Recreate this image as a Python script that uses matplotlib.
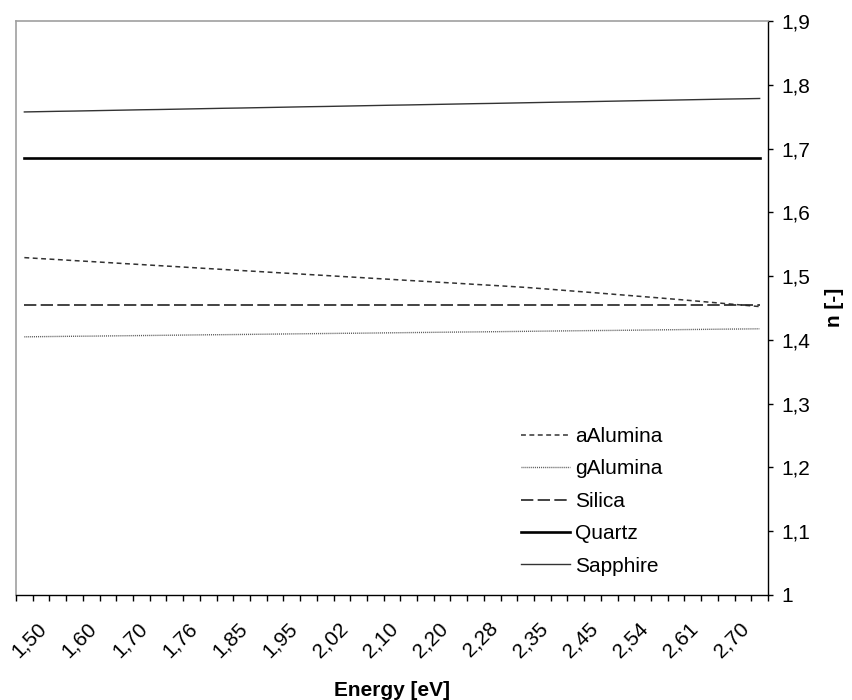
import numpy as np
import matplotlib.pyplot as plt
from matplotlib.transforms import ScaledTranslation

plt.rcParams['font.family'] = ['Liberation Sans', 'DejaVu Sans']

# 45 energy points, only every third one is labelled on the axis
n_points = 45
tick_labels = ['1,50', '1,60', '1,70', '1,76', '1,85', '1,95', '2,02', '2,10',
               '2,20', '2,28', '2,35', '2,45', '2,54', '2,61', '2,70']

# refractive index of each material
aAlumina = [1.5290, 1.5274, 1.5259, 1.5243, 1.5228, 1.5212, 1.5196, 1.5181, 1.5165,
            1.5150, 1.5134, 1.5118, 1.5103, 1.5087, 1.5072, 1.5056, 1.5041, 1.5025,
            1.5010, 1.4994, 1.4979, 1.4963, 1.4948, 1.4932, 1.4917, 1.4901, 1.4886,
            1.4870, 1.4855, 1.4839, 1.4823, 1.4803, 1.4783, 1.4762, 1.4742, 1.4721,
            1.4700, 1.4679, 1.4658, 1.4636, 1.4614, 1.4591, 1.4568, 1.4545, 1.4522]
gAlumina = [1.4048, 1.4051, 1.4054, 1.4057, 1.4059, 1.4062, 1.4065, 1.4068, 1.4071,
            1.4074, 1.4077, 1.4080, 1.4082, 1.4085, 1.4088, 1.4091, 1.4094, 1.4097,
            1.4100, 1.4103, 1.4105, 1.4108, 1.4111, 1.4114, 1.4117, 1.4120, 1.4123,
            1.4125, 1.4128, 1.4131, 1.4134, 1.4137, 1.4140, 1.4143, 1.4146, 1.4148,
            1.4151, 1.4154, 1.4157, 1.4160, 1.4163, 1.4166, 1.4169, 1.4171, 1.4174]
silica = [1.4545] * n_points
quartz = [1.685] * n_points
sapphire = [1.7574, 1.7579, 1.7584, 1.7588, 1.7593, 1.7598, 1.7603, 1.7608, 1.7612,
            1.7617, 1.7622, 1.7627, 1.7632, 1.7636, 1.7641, 1.7646, 1.7651, 1.7656,
            1.7660, 1.7665, 1.7670, 1.7675, 1.7680, 1.7684, 1.7689, 1.7694, 1.7699,
            1.7704, 1.7708, 1.7713, 1.7718, 1.7723, 1.7728, 1.7732, 1.7737, 1.7742,
            1.7747, 1.7752, 1.7756, 1.7761, 1.7766, 1.7771, 1.7776, 1.7780, 1.7785]

y_ticks = [1.0, 1.1, 1.2, 1.3, 1.4, 1.5, 1.6, 1.7, 1.8, 1.9]
y_tick_labels = ['1', '1,1', '1,2', '1,3', '1,4', '1,5', '1,6', '1,7', '1,8', '1,9']

FS = 15
W, H = 853, 700
fig = plt.figure(figsize=(W / 100, H / 100), dpi=100)
ax = fig.add_axes([16 / W, 1 - 595 / H, (768 - 16) / W, (595 - 21) / H])

x = np.arange(n_points)
ax.plot(x, aAlumina, color='#333333', lw=1.1, dashes=(3.2, 2.3), label='aAlumina')
ax.plot(x, gAlumina, color='#555555', lw=1.0, dashes=(0.7, 0.7), label='gAlumina')
ax.plot(x, silica, color='#222222', lw=1.2, dashes=(7.4, 2.6), label='Silica')
ax.plot(x, quartz, color='black', lw=1.9, label='Quartz')
ax.plot(x, sapphire, color='#333333', lw=1.0, label='Sapphire')

ax.set_xlim(-0.5, n_points - 0.5)
ax.set_ylim(1.0, 1.9)

# tick marks between categories, labels on every third category
ax.set_xticks(np.arange(-0.5, n_points, 1.0))
ax.set_xticklabels([])
ax.set_xticks(x[::3], minor=True)
ax.set_xticklabels(tick_labels, minor=True, rotation=45, ha='center', fontsize=FS)
ax.tick_params(axis='x', which='major', direction='out', length=4.3, width=1, color='black')
ax.tick_params(axis='x', which='minor', length=0, pad=17)
shift = ScaledTranslation(5 / 100, 0, fig.dpi_scale_trans)
for lab in ax.get_xticklabels(minor=True):
    lab.set_transform(lab.get_transform() + shift)

ax.yaxis.tick_right()
ax.set_yticks(y_ticks)
ax.set_yticklabels(y_tick_labels, fontsize=FS)
ax.tick_params(axis='y', direction='out', length=3.6, width=1, color='black', pad=6)

for side in ['left', 'top']:
    ax.spines[side].set_color('#a0a0a0')
    ax.spines[side].set_linewidth(1.2)
for side in ['right', 'bottom']:
    ax.spines[side].set_color('black')
    ax.spines[side].set_linewidth(1.0)

fig.text(392 / W, 1 - 690 / H, 'Energy [eV]', ha='center', va='center',
         fontsize=FS, fontweight='bold')
fig.text(835 / W, 1 - 307 / H, 'n [-]', ha='center', va='center',
         rotation=90, fontsize=FS, fontweight='bold')

ax.legend(loc='upper left', bbox_to_anchor=(521 / W, 1 - 427 / H),
          bbox_transform=fig.transFigure, frameon=False, fontsize=FS,
          handlelength=2.35, handletextpad=0.25, labelspacing=0.645,
          borderpad=0, borderaxespad=0)

fig.savefig('out.png', dpi=100)
